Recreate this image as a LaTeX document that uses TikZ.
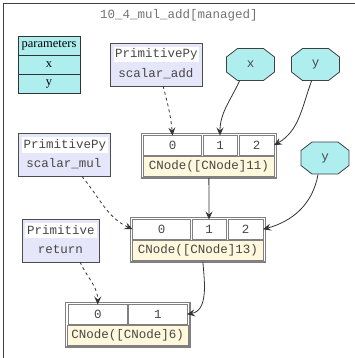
\documentclass[tikz,border=0pt]{standalone}
\usepackage{fontspec}
\setmainfont{Liberation Serif}
\newfontfamily\cour{Liberation Mono}
\usetikzlibrary{arrows.meta,fit}

\definecolor{paleturq}{HTML}{AFEEEE}
\definecolor{lavender}{HTML}{E6E6FA}
\definecolor{cornsilk}{HTML}{FFF8DC}
\definecolor{edgegray}{HTML}{333333}
\definecolor{cellgray}{HTML}{808080}

\tikzset{
  every node/.style={inner sep=0pt, outer sep=0pt},
  mono/.style={font=\cour\fontsize{12.5}{14}\selectfont, text=black!72},
  param/.style={draw=black!80, fill=paleturq, line width=0.8pt, minimum width=62pt, minimum height=19pt, font=\fontsize{12.5}{14}\selectfont},
  octo/.style={minimum width=49pt, minimum height=33pt, mono, path picture={
    \filldraw[fill=paleturq, draw=black!75, line width=0.8pt]
      ([xshift=11.5pt,yshift=-0.5pt]path picture bounding box.north west) --
      ([xshift=-11.5pt,yshift=-0.5pt]path picture bounding box.north east) --
      ([xshift=-0.5pt,yshift=-9pt]path picture bounding box.north east) --
      ([xshift=-0.5pt,yshift=9pt]path picture bounding box.south east) --
      ([xshift=-11.5pt,yshift=0.5pt]path picture bounding box.south east) --
      ([xshift=11.5pt,yshift=0.5pt]path picture bounding box.south west) --
      ([xshift=0.5pt,yshift=9pt]path picture bounding box.south west) --
      ([xshift=0.5pt,yshift=-9pt]path picture bounding box.north west) -- cycle;}},
  primbox/.style={draw=black!70, fill=lavender, line width=0.9pt, minimum height=43pt},
  primhead/.style={mono, fill=white, minimum height=15pt},
  port/.style={mono, draw=cellgray, fill=white, line width=0.9pt, minimum height=19.5pt},
  plabel/.style={mono, draw=cellgray, fill=cornsilk, line width=0.9pt, minimum height=19.5pt},
  recframe/.style={draw=cellgray, line width=1.3pt, inner sep=2pt},
  wire/.style={draw=edgegray, line width=0.8pt, -{Stealth[length=8pt,width=7pt,inset=3pt]}},
  ctrl/.style={wire, dashed},
}

\begin{document}
\begin{tikzpicture}[x=1pt,y=1pt]
\useasboundingbox (0,0) rectangle (355,-358);
\draw[black!75, line width=1.2pt] (3.5,-358) |- (355,-3.5);
\node[mono, text=black!55] (title) at (179,-15) {10\_4\_mul\_add[managed]};

\node[param] (phead) at (49,-45.5) {parameters};
\node[param] (px) at (49,-64.5) {x};
\node[param] (py) at (49,-83.5) {y};

\node[octo] (ox) at (250.5,-64.5) {x};
\node[octo] (oy) at (315.5,-64.5) {y};
\node[octo] (oy2) at (325,-158) {y};

\node[primbox, minimum width=92pt] (padd) at (156,-64.5) {};
\node[primhead, minimum width=85pt] (paddhead) at (156.5,-54.5) {PrimitivePy};
\node[mono] (paddname) at (156,-73.5) {scalar\_add};

\node[primbox, minimum width=92pt] (pmul) at (64,-155) {};
\node[primhead, minimum width=86pt] (pmulhead) at (65,-145) {PrimitivePy};
\node[mono] (pmulname) at (64,-164) {scalar\_mul};

\node[primbox, minimum width=77pt] (pret) at (60.5,-240.5) {};
\node[primhead, minimum width=72pt] (prethead) at (61,-230.5) {Primitive};
\node[mono] (pretname) at (60.5,-249.5) {return};

\node[port, minimum width=58pt] (n11p0) at (172.5,-145.25) {0};
\node[port, minimum width=34pt] (n11p1) at (220,-145.25) {1};
\node[port, minimum width=35pt] (n11p2) at (256.5,-145.25) {2};
\node[plabel, minimum width=130.5pt] (n11lbl) at (209,-166.25) {CNode([CNode]11)};
\node[recframe, fit=(n11p0)(n11p2)(n11lbl)] (n11) {};

\node[port, minimum width=58pt] (n13p0) at (161.5,-229.25) {0};
\node[port, minimum width=34pt] (n13p1) at (209,-229.25) {1};
\node[port, minimum width=35pt] (n13p2) at (245.5,-229.25) {2};
\node[plabel, minimum width=130.5pt] (n13lbl) at (198,-250.25) {CNode([CNode]13)};
\node[recframe, fit=(n13p0)(n13p2)(n13lbl)] (n13) {};

\node[port, minimum width=58.5pt] (n6p0) at (97.75,-314.25) {0};
\node[port, minimum width=58.5pt] (n6p1) at (157.75,-314.25) {1};
\node[plabel, minimum width=120.5pt] (n6lbl) at (127.75,-335.25) {CNode([CNode]6)};
\node[recframe, fit=(n6p0)(n6p1)(n6lbl)] (n6) {};

\draw[ctrl] ([xshift=7pt]padd.south) to[out=-75,in=95] (n11p0.north);
\draw[wire] ([xshift=-11pt]ox.south) to[out=-115,in=90] (n11p1.north);
\draw[wire] ([xshift=-4pt]oy.south) to[out=-110,in=30] (n11p2.east);
\draw[wire] (n11.south) -- (n13p1.north);
\draw[ctrl] ([xshift=18pt]pmul.south) to[out=-50,in=155] (n13p0.west);
\draw[wire] ([xshift=-7pt]oy2.south) to[out=-100,in=15] (n13p2.east);
\draw[ctrl] ([xshift=19.5pt]pret.south) to[out=-65,in=90] (n6p0.north);
\draw[wire] ([xshift=5pt]n13.south) to[out=-85,in=10] (n6p1.east);
\end{tikzpicture}
\end{document}
